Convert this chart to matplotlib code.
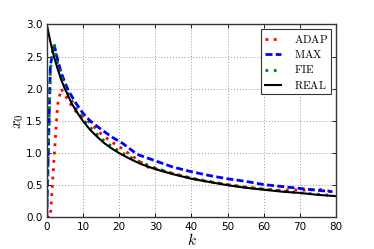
import matplotlib
matplotlib.use("Agg")
import matplotlib.pyplot as plt

# ---- data ----
k_adap = [0, 1, 2, 3, 4, 5, 6, 7, 8, 10, 12, 15, 18, 20, 23, 26, 28, 30, 35, 40,
          45, 50, 55, 60, 65, 68, 72, 75, 79]
adap = [0.0, 0.0, 0.9, 1.75, 2.0, 1.9, 1.82, 1.72, 1.65, 1.56, 1.47, 1.30, 1.17, 1.10,
        0.98, 0.86, 0.78, 0.76, 0.68, 0.61, 0.55, 0.51, 0.47, 0.44, 0.42, 0.43, 0.42,
        0.44, 0.40]

k_max = [0, 1, 2, 3, 4, 5, 6, 8, 10, 12, 15, 18, 21, 25, 30, 35, 40, 45, 50, 55,
         60, 65, 70, 75, 79]
max_v = [0.0, 2.35, 2.7, 2.45, 2.25, 2.1, 1.97, 1.78, 1.62, 1.50, 1.37, 1.25, 1.15,
         0.98, 0.88, 0.78, 0.71, 0.65, 0.60, 0.56, 0.51, 0.48, 0.45, 0.42, 0.40]

k_fie = [0, 1, 2, 3, 4, 5, 6, 8, 10, 12, 15, 18, 20, 25, 30, 35, 40, 45, 50, 55,
         60, 65, 70, 75, 79]
fie = [0.0, 2.3, 2.7, 2.4, 2.2, 2.05, 1.92, 1.70, 1.53, 1.40, 1.23, 1.10, 1.03, 0.88,
       0.77, 0.68, 0.61, 0.56, 0.51, 0.47, 0.44, 0.41, 0.38, 0.36, 0.34]

k_real = [0, 1, 2, 3, 4, 5, 6, 7, 8, 9, 10, 12, 14, 16, 18, 20, 23, 26, 30, 35, 40,
          45, 50, 55, 60, 65, 70, 75, 80]
real = [3.00, 2.73, 2.50, 2.31, 2.14, 2.00, 1.88, 1.76, 1.67, 1.58, 1.50, 1.36, 1.25,
        1.15, 1.07, 1.00, 0.91, 0.83, 0.75, 0.67, 0.60, 0.55, 0.50, 0.46, 0.43, 0.40,
        0.38, 0.35, 0.33]

labels = ["ADAP", "MAX", "FIE", "REAL"]
x_ticks = [0, 10, 20, 30, 40, 50, 60, 70, 80]
y_ticks = [0.0, 0.5, 1.0, 1.5, 2.0, 2.5, 3.0]

plt.rcParams["mathtext.fontset"] = "cm"

fig = plt.figure(figsize=(3.74, 2.49), dpi=100)
ax = fig.add_axes([0.125, 0.127, 0.7735, 0.775])

dot = (0, (1, 2))
dash = (0, (2.5, 1.2))
ax.plot(k_adap, adap, color=(1, 0, 0), linestyle=dot, linewidth=2.0,
        label=r"$\mathrm{%s}$" % labels[0])
ax.plot(k_max, max_v, color=(0, 0, 1), linestyle=dash, linewidth=2.0,
        label=r"$\mathrm{%s}$" % labels[1])
ax.plot(k_fie, fie, color=(0, 0.5, 0), linestyle=dot, linewidth=2.0,
        label=r"$\mathrm{%s}$" % labels[2])
ax.plot(k_real, real, color="black", linestyle="-", linewidth=1.5,
        label=r"$\mathrm{%s}$" % labels[3])

ax.set_xlim(0, 80)
ax.set_ylim(0, 3.0)
ax.set_xticks(x_ticks)
ax.set_yticks(y_ticks)
ax.set_yticklabels(["%.1f" % v for v in y_ticks])
ax.tick_params(direction="in", top=True, right=True, labelsize=7.5, length=3,
               width=0.6, pad=3)
ax.grid(True, color="0.6", linestyle=(0, (1, 2)), linewidth=0.7)
for s in ax.spines.values():
    s.set_linewidth(1.0)
    s.set_color("0.2")

ax.set_xlabel(r"$k$", fontsize=11, labelpad=0)
ax.set_ylabel(r"$x_0$", fontsize=11, labelpad=0)

leg = ax.legend(loc="upper right", fontsize=8, handlelength=1.5, fancybox=False,
                framealpha=1, edgecolor="0.2", borderpad=0.3, labelspacing=0.3,
                handletextpad=1.1, borderaxespad=0.45)
leg.get_frame().set_linewidth(0.8)

fig.savefig("out.png", dpi=100, facecolor="white")
